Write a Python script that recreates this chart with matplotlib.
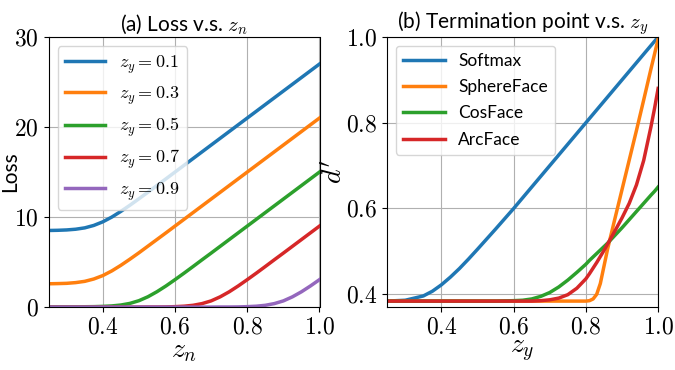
import matplotlib
matplotlib.use('Agg')
import matplotlib.pyplot as plt

plt.rcParams['font.family'] = ['Lato', 'DejaVu Sans']
plt.rcParams['mathtext.fontset'] = 'cm'

# (a) loss against z_n, one curve per z_y
z_n = [0.25, 0.275, 0.30, 0.325, 0.35, 0.375, 0.40, 0.425, 0.45, 0.475, 0.50,
       0.525, 0.55, 0.575, 0.60, 0.625, 0.65, 0.675, 0.70, 0.725, 0.75, 0.775,
       0.80, 0.825, 0.85, 0.875, 0.90, 0.925, 0.95, 0.975, 1.00]
loss_zy01 = [8.51, 8.53, 8.57, 8.65, 8.80, 9.07, 9.47, 10.00, 10.63, 11.31, 12.03,
             12.76, 13.51, 14.25, 15.00, 15.75, 16.50, 17.25, 18.00, 18.75, 19.50, 20.25,
             21.00, 21.75, 22.50, 23.25, 24.00, 24.75, 25.50, 26.25, 27.00]
loss_zy03 = [2.59, 2.61, 2.64, 2.72, 2.86, 3.12, 3.50, 4.02, 4.64, 5.32, 6.03,
             6.77, 7.51, 8.25, 9.00, 9.75, 10.50, 11.25, 12.00, 12.75, 13.50, 14.25,
             15.00, 15.75, 16.50, 17.25, 18.00, 18.75, 19.50, 20.25, 21.00]
loss_zy05 = [0.03, 0.03, 0.03, 0.03, 0.04, 0.05, 0.08, 0.13, 0.23, 0.41, 0.71,
             1.15, 1.71, 2.35, 3.05, 3.77, 4.51, 5.26, 6.00, 6.75, 7.50, 8.25,
             9.00, 9.75, 10.50, 11.25, 12.00, 12.75, 13.50, 14.25, 15.00]
loss_zy07 = [0.00, 0.00, 0.00, 0.00, 0.00, 0.00, 0.00, 0.00, 0.00, 0.00, 0.00,
             0.01, 0.01, 0.02, 0.05, 0.10, 0.20, 0.39, 0.69, 1.14, 1.70, 2.35,
             3.05, 3.77, 4.51, 5.26, 6.00, 6.75, 7.50, 8.25, 9.00]
loss_zy09 = [0.00, 0.00, 0.00, 0.00, 0.00, 0.00, 0.00, 0.00, 0.00, 0.00, 0.00,
             0.00, 0.00, 0.00, 0.00, 0.00, 0.00, 0.00, 0.00, 0.01, 0.01, 0.02,
             0.05, 0.10, 0.20, 0.39, 0.69, 1.14, 1.70, 2.35, 3.05]
loss_labels = ['$z_y = 0.1$', '$z_y = 0.3$', '$z_y = 0.5$', '$z_y = 0.7$', '$z_y = 0.9$']

# (b) termination point d' against z_y
z_y = [0.25, 0.30, 0.35, 0.375, 0.40, 0.425, 0.45, 0.475, 0.50, 0.55, 0.60,
       0.625, 0.65, 0.675, 0.70, 0.725, 0.75, 0.775, 0.80, 0.81, 0.82, 0.83,
       0.84, 0.85, 0.86, 0.87, 0.88, 0.90, 0.92, 0.94, 0.96, 0.98, 0.99, 1.00]
softmax = [0.384, 0.386, 0.396, 0.407, 0.422, 0.440, 0.460, 0.482, 0.505, 0.552, 0.600,
           0.625, 0.650, 0.675, 0.700, 0.725, 0.750, 0.775, 0.800, 0.810, 0.820, 0.830,
           0.840, 0.850, 0.860, 0.870, 0.880, 0.900, 0.920, 0.940, 0.960, 0.980, 0.990, 1.000]
sphereface = [0.384, 0.384, 0.384, 0.384, 0.384, 0.384, 0.384, 0.384, 0.384, 0.384, 0.384,
              0.384, 0.384, 0.384, 0.384, 0.384, 0.384, 0.384, 0.384, 0.385, 0.389, 0.400,
              0.425, 0.465, 0.505, 0.540, 0.575, 0.644, 0.713, 0.782, 0.853, 0.925, 0.960, 0.995]
cosface = [0.384, 0.384, 0.384, 0.384, 0.384, 0.384, 0.384, 0.384, 0.384, 0.384, 0.385,
           0.386, 0.389, 0.395, 0.404, 0.417, 0.433, 0.451, 0.470, 0.479, 0.487, 0.495,
           0.503, 0.511, 0.519, 0.528, 0.537, 0.555, 0.574, 0.593, 0.612, 0.631, 0.640, 0.650]
arcface = [0.384, 0.384, 0.384, 0.384, 0.384, 0.384, 0.384, 0.384, 0.384, 0.384, 0.384,
           0.384, 0.384, 0.385, 0.387, 0.391, 0.399, 0.414, 0.436, 0.448, 0.461, 0.474,
           0.488, 0.502, 0.517, 0.532, 0.547, 0.578, 0.612, 0.655, 0.712, 0.790, 0.833, 0.880]
method_labels = ['Softmax', 'SphereFace', 'CosFace', 'ArcFace']

x_ticks = [0.4, 0.6, 0.8, 1.0]
x_tick_labels = ['$0.4$', '$0.6$', '$0.8$', '$1.0$']
loss_ticks = [0, 10, 20, 30]
loss_tick_labels = ['$0$', '$10$', '$20$', '$30$']
d_ticks = [0.4, 0.6, 0.8, 1.0]
d_tick_labels = ['$0.4$', '$0.6$', '$0.8$', '$1.0$']


fig, (ax1, ax2) = plt.subplots(1, 2, figsize=(6.75, 3.7), dpi=100)
fig.subplots_adjust(left=0.072, right=0.975, bottom=0.170, top=0.900, wspace=0.25)

for values, label in zip([loss_zy01, loss_zy03, loss_zy05, loss_zy07, loss_zy09], loss_labels):
    ax1.plot(z_n, values, linewidth=2.5, label=label)
ax1.set_xlim(0.25, 1.0)
ax1.set_ylim(0, 30)
ax1.set_xticks(x_ticks)
ax1.set_xticklabels(x_tick_labels)
ax1.set_yticks(loss_ticks)
ax1.set_yticklabels(loss_tick_labels)
ax1.set_xlabel('$z_n$', fontsize=20, labelpad=0)
ax1.set_ylabel('Loss', fontsize=15)
ax1.yaxis.set_label_coords(-0.105, 0.5)
ax1.set_title('(a) Loss v.s. $z_n$', fontsize=15, pad=4)
ax1.legend(loc='upper left', fontsize=13, handlelength=2.2)

for values, label in zip([softmax, sphereface, cosface, arcface], method_labels):
    ax2.plot(z_y, values, linewidth=2.5, label=label)
ax2.set_xlim(0.25, 1.0)
ax2.set_ylim(0.37, 1.0)
ax2.set_xticks(x_ticks)
ax2.set_xticklabels(x_tick_labels)
ax2.set_yticks(d_ticks)
ax2.set_yticklabels(d_tick_labels)
ax2.set_xlabel('$z_y$', fontsize=20, labelpad=0)
ax2.set_ylabel("$d'$", fontsize=20)
ax2.yaxis.set_label_coords(-0.145, 0.5)
ax2.set_title('(b) Termination point v.s. $z_y$', fontsize=15, pad=4)
ax2.legend(loc='upper left', fontsize=12.5, handlelength=2.4, labelspacing=0.6)

for ax in (ax1, ax2):
    ax.grid(True, color='#b0b0b0', linewidth=0.8)
    ax.tick_params(labelsize=17)

plt.savefig('out.png', dpi=100)
